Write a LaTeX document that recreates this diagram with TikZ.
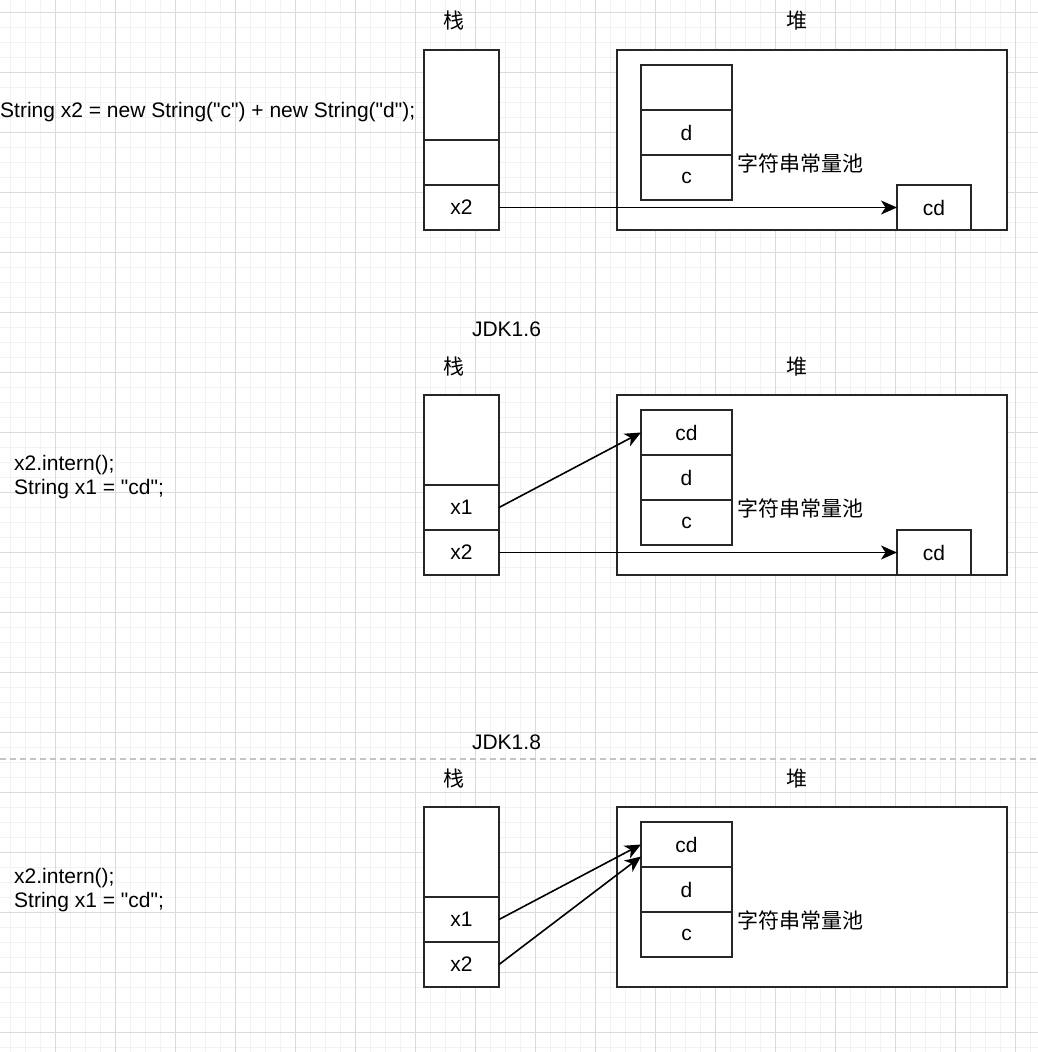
\documentclass[tikz,border=0pt]{standalone}
\usepackage{fontspec}
\newfontfamily\codefont{Liberation Sans}
\newfontfamily\cjk{Noto Sans CJK SC}
\usetikzlibrary{arrows.meta,positioning}
\definecolor{gridmajor}{HTML}{DADADA}
\definecolor{gridminor}{HTML}{F2F2F2}
\definecolor{sepline}{HTML}{C4C4C4}
\newcommand\codesize{\fontsize{21pt}{24pt}\selectfont}

\begin{document}
\begin{tikzpicture}[x=1pt, y=-1pt, font=\codefont\codesize,
        box/.style={draw=black!85, fill=white, line width=1.5pt, inner sep=0pt, outer sep=0pt},
        cell/.style={box, minimum width=75pt, minimum height=45pt},
        poolcell/.style={box, minimum width=91pt, minimum height=45pt},
        heap/.style={box, minimum width=390pt, minimum height=180pt},
        newobj/.style={box, minimum width=74pt, minimum height=45pt},
        label/.style={inner sep=0pt},
        cjklabel/.style={inner sep=0pt, font=\cjk\codesize},
        ref/.style={draw=black, line width=1.6pt, -{Stealth[length=16pt, width=14pt, inset=4.5pt]}}]
        \useasboundingbox (0,0) rectangle (1038,1052);

        % grid
        \foreach \x in {10,25,...,1030} \draw[gridminor, line width=1pt] (\x,0) -- (\x,1052);
        \foreach \y in {12,27,...,1047} \draw[gridminor, line width=1pt] (0,\y) -- (1038,\y);
        \foreach \x in {55,115,...,1015} \draw[gridmajor, line width=1pt] (\x,0) -- (\x,1052);
        \foreach \y in {12,72,...,1032} \draw[gridmajor, line width=1pt] (0,\y) -- (1038,\y);
        \draw[sepline, line width=1.5pt, dash pattern=on 6pt off 4pt] (0,759) -- (1038,759);

        % new String("c") + new String("d")
        \node[label, anchor=west] (code1) at (0,112) {String x2 = new String("c") + new String("d");};
        \node[cjklabel] (stacktitle1) at (454,21) {栈};
        \node[cjklabel] (heaptitle1) at (797,21) {堆};
        \node[cell, minimum height=90pt] (stk1) at (461.5,95) {};
        \node[cell, below=0pt of stk1] (stk1m) {};
        \node[cell, below=0pt of stk1m] (stk1x2) {x2};
        \node[heap] (heap1) at (812,140) {};
        \node[poolcell] (pool1top) at (686.5,87.5) {};
        \node[poolcell, below=0pt of pool1top] (pool1d) {d};
        \node[poolcell, below=0pt of pool1d] (pool1c) {c};
        \node[cjklabel, anchor=west] (poolname1) at ([xshift=5pt, yshift=-8pt]pool1c.north east) {字符串常量池};
        \node[newobj] (cd1) at (934,207.5) {cd};
        \draw[ref] (stk1x2.east) -- (cd1.west);

        % JDK1.6
        \node[label] (jdk6) at (506.5,329) {JDK1.6};
        \node[label, anchor=west, align=left] (code2) at (14,477) {x2.intern();\\String x1 = "cd";};
        \node[cjklabel] (stacktitle2) at (454,367) {栈};
        \node[cjklabel] (heaptitle2) at (797,367) {堆};
        \node[cell, minimum height=90pt] (stk2) at (461.5,440) {};
        \node[cell, below=0pt of stk2] (stk2x1) {x1};
        \node[cell, below=0pt of stk2x1] (stk2x2) {x2};
        \node[heap] (heap2) at (812,485) {};
        \node[poolcell] (pool2cd) at (686.5,432.5) {cd};
        \node[poolcell, below=0pt of pool2cd] (pool2d) {d};
        \node[poolcell, below=0pt of pool2d] (pool2c) {c};
        \node[cjklabel, anchor=west] (poolname2) at ([xshift=5pt, yshift=-8pt]pool2c.north east) {字符串常量池};
        \node[newobj] (cd2) at (934,552.5) {cd};
        \draw[ref] (stk2x1.east) -- (pool2cd.west);
        \draw[ref] (stk2x2.east) -- (cd2.west);

        % JDK1.8
        \node[label] (jdk8) at (506.5,742) {JDK1.8};
        \node[label, anchor=west, align=left] (code3) at (14,890) {x2.intern();\\String x1 = "cd";};
        \node[cjklabel] (stacktitle3) at (454,779) {栈};
        \node[cjklabel] (heaptitle3) at (797,779) {堆};
        \node[cell, minimum height=90pt] (stk3) at (461.5,852) {};
        \node[cell, below=0pt of stk3] (stk3x1) {x1};
        \node[cell, below=0pt of stk3x1] (stk3x2) {x2};
        \node[heap] (heap3) at (812,897) {};
        \node[poolcell] (pool3cd) at (686.5,844.5) {cd};
        \node[poolcell, below=0pt of pool3cd] (pool3d) {d};
        \node[poolcell, below=0pt of pool3d] (pool3c) {c};
        \node[cjklabel, anchor=west] (poolname3) at ([xshift=5pt, yshift=-8pt]pool3c.north east) {字符串常量池};
        \draw[ref] (stk3x1.east) -- (pool3cd.west);
        \draw[ref] (stk3x2.east) -- ([yshift=-12pt]pool3cd.west);
\end{tikzpicture}
\end{document}
